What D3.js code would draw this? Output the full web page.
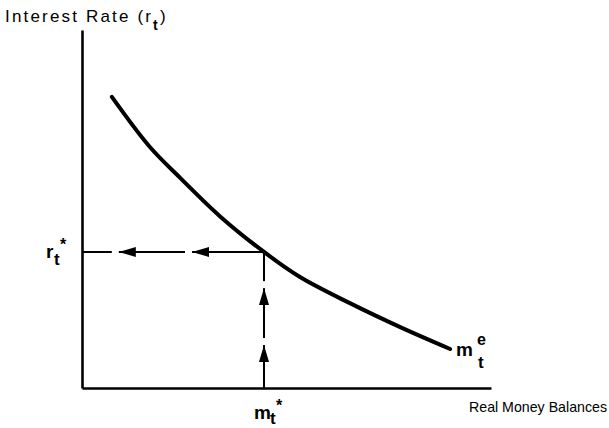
<!DOCTYPE html>
<html><head><meta charset="utf-8">
<script src="https://cdn.jsdelivr.net/npm/d3@7"></script>
<style>body{margin:0;background:#fff}svg{display:block}text{font-family:"Liberation Sans",Arial,sans-serif;fill:#000}</style>
</head><body>
<script>
// Money demand curve m_t^e (data units 0-100 on both axes)
const curveX = [7.3, 16.6, 24.0, 33.7, 44.5, 53.3, 65.5, 77.8, 90.0];
const curveY = [81.3, 67.3, 58.7, 48.0, 38.0, 31.0, 23.7, 17.0, 10.9];
// Equilibrium
const mStar = 44.5;
const rStar = 38.0;
// arrow tip positions along guides
const hArrowX = [9.0, 26.9];
const vArrowY = [12.0, 27.9];

const W = 609, H = 428;
const svg = d3.select("body").append("svg").attr("width", W).attr("height", H);
const x = d3.scaleLinear().domain([0, 100]).range([82, 491]);
const y = d3.scaleLinear().domain([0, 100]).range([388, 30]);

// axes without ticks
svg.append("g").attr("transform", `translate(${x(0)},0)`)
  .call(d3.axisLeft(y).tickValues([]).tickSizeOuter(0))
  .select(".domain").attr("stroke", "#000").attr("stroke-width", 2.6);
svg.append("g").attr("transform", `translate(0,${y(0)})`)
  .call(d3.axisBottom(x).tickValues([]).tickSizeOuter(0))
  .select(".domain").attr("stroke", "#000").attr("stroke-width", 2.4);

// guide lines
svg.append("line").attr("x1", x(0)).attr("x2", x(mStar)).attr("y1", y(rStar)).attr("y2", y(rStar))
  .attr("stroke", "#000").attr("stroke-width", 2);
svg.append("line").attr("x1", x(mStar)).attr("x2", x(mStar)).attr("y1", y(0)).attr("y2", y(rStar))
  .attr("stroke", "#000").attr("stroke-width", 2);

const hl = 17, hw = 5, gap = 7;
hArrowX.forEach(v => {
  const tx = x(v), ty = y(rStar);
  svg.append("rect").attr("x", tx - gap).attr("y", ty - 2).attr("width", gap).attr("height", 4).attr("fill", "#fff");
  svg.append("path").attr("d", `M${tx},${ty} L${tx + hl},${ty - hw} L${tx + hl},${ty + hw} Z`).attr("fill", "#000");
});
vArrowY.forEach(v => {
  const tx = x(mStar), ty = y(v);
  svg.append("rect").attr("x", tx - 2).attr("y", ty - gap).attr("width", 4).attr("height", gap).attr("fill", "#fff");
  svg.append("path").attr("d", `M${tx},${ty} L${tx - hw},${ty + hl} L${tx + hw},${ty + hl} Z`).attr("fill", "#000");
});

// curve
const pts = curveX.map((d, i) => [x(d), y(curveY[i])]);
svg.append("path").attr("d", d3.line().curve(d3.curveCatmullRom)(pts))
  .attr("fill", "none").attr("stroke", "#000").attr("stroke-width", 4).attr("stroke-linecap", "round");

// labels
svg.append("text").attr("x", 5).attr("y", 22).attr("font-size", 17)
  .attr("textLength", 146).attr("lengthAdjust", "spacing").text("Interest Rate (r");
svg.append("text").attr("x", 153).attr("y", 30).attr("font-size", 14).attr("font-weight", "bold").text("t");
svg.append("text").attr("x", 160).attr("y", 22).attr("font-size", 17).text(")");

svg.append("text").attr("x", 469).attr("y", 412).attr("font-size", 14.2).text("Real Money Balances");

// r*_t
svg.append("text").attr("x", 46).attr("y", 258).attr("font-size", 19).attr("font-weight", "bold").text("r");
svg.append("text").attr("x", 54).attr("y", 265).attr("font-size", 17).attr("font-weight", "bold").text("t");
svg.append("text").attr("x", 60).attr("y", 250).attr("font-size", 16).attr("font-weight", "bold").text("*");
// m*_t
svg.append("text").attr("x", 254).attr("y", 419).attr("font-size", 19).attr("font-weight", "bold").text("m");
svg.append("text").attr("x", 270).attr("y", 424).attr("font-size", 17).attr("font-weight", "bold").text("t");
svg.append("text").attr("x", 276).attr("y", 411).attr("font-size", 16).attr("font-weight", "bold").text("*");
// m^e_t
svg.append("text").attr("x", 456).attr("y", 356).attr("font-size", 19).attr("font-weight", "bold").text("m");
svg.append("text").attr("x", 477).attr("y", 345).attr("font-size", 16).attr("font-weight", "bold").text("e");
svg.append("text").attr("x", 478).attr("y", 368).attr("font-size", 17).attr("font-weight", "bold").text("t");
</script>
</body></html>
